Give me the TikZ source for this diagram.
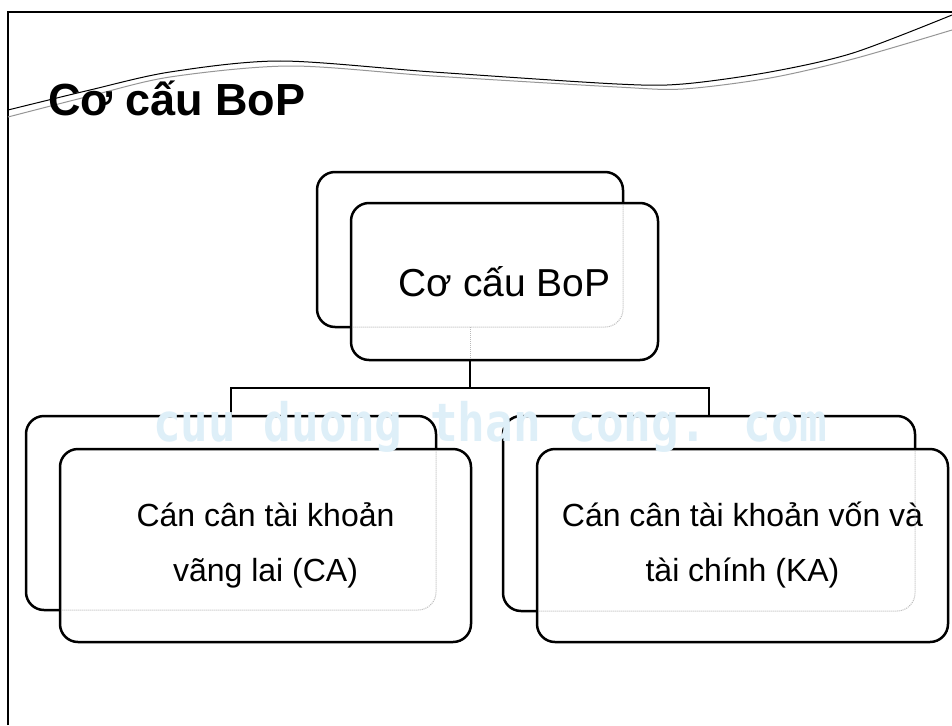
\documentclass[tikz,border=0pt]{standalone}
\usepackage{fontspec}
\setmainfont{Liberation Sans}
\newfontfamily\wmfont{DejaVu Sans Mono}
\definecolor{wmblue}{RGB}{222,239,248}
\definecolor{hidgray}{RGB}{185,185,185}
\definecolor{swooshgray}{RGB}{150,150,150}
\begin{document}
\begin{tikzpicture}[x=1pt,y=-1pt,
  boxstyle/.style={draw=black, line width=2.5pt, rounded corners=18pt, fill=white, inner sep=0pt, outer sep=0pt},
  toptext/.style={font=\fontsize{39}{50}\selectfont, align=center},
  boxtext/.style={font=\fontsize{32}{55}\selectfont, align=center},
  linkstyle/.style={draw=black, line width=2pt},
  hiddenstyle/.style={draw=hidgray, line width=1pt, densely dotted},
  framestyle/.style={draw=black, line width=2.5pt},
]
\useasboundingbox (0,0) rectangle (952,725);
\fill[white] (0,0) rectangle (952,725);
% slide frame
\draw[framestyle] (8,725) -- (8,12) -- (952,12);
% swoosh
\draw[swooshgray, line width=1pt] plot[smooth] coordinates {(8,117) (90,96) (170,77) (290,66) (433,76) (617,87) (683,89) (770,78) (853,59) (952,30)};
\draw[black, line width=1pt] plot[smooth] coordinates {(8,110) (90,90) (170,72) (280,61) (433,72) (617,84) (683,84) (770,72) (853,53) (952,15)};
% title
\node[anchor=base west, inner sep=0pt, font=\bfseries\fontsize{45}{50}\selectfont] (title) at (48,115) {Cơ cấu BoP};
% boxes
\node[boxstyle, minimum width=306pt, minimum height=155pt] (topback) at (470,249.5) {};
\node[boxstyle, minimum width=410pt, minimum height=194pt] (caback) at (231,513) {};
\node[boxstyle, minimum width=412pt, minimum height=195pt] (kaback) at (709,513.5) {};
% connectors
\coordinate (bus) at (470,388);
\draw[linkstyle] (topback.south) -- (bus);
\draw[linkstyle] (bus) -| (caback.north);
\draw[linkstyle] (bus) -| (kaback.north);
% front boxes
\node[boxstyle, toptext, minimum width=307pt, minimum height=157pt] (topfront) at (504.5,281.5) {Cơ cấu BoP};
\node[boxstyle, boxtext, minimum width=411pt, minimum height=193pt] (cafront) at (265.5,545.5) {Cán cân tài khoản\\vãng lai (CA)};
\node[boxstyle, boxtext, minimum width=411pt, minimum height=193pt] (kafront) at (742.5,545.5) {Cán cân tài khoản vốn và\\tài chính (KA)};
% hidden outlines
\begin{scope}
\clip[rounded corners=16pt] ([shift={(2pt,2pt)}]topfront.south west) rectangle ([shift={(-2pt,-2pt)}]topfront.north east);
\draw[hiddenstyle, rounded corners=18pt] (topback.south west) rectangle (topback.north east);
\draw[hiddenstyle] (topback.south) -- (topback.south |- topfront.south);
\end{scope}
\begin{scope}
\clip[rounded corners=16pt] ([shift={(2pt,2pt)}]cafront.south west) rectangle ([shift={(-2pt,-2pt)}]cafront.north east);
\draw[hiddenstyle, rounded corners=18pt] (caback.south west) rectangle (caback.north east);
\end{scope}
\begin{scope}
\clip[rounded corners=16pt] ([shift={(2pt,2pt)}]kafront.south west) rectangle ([shift={(-2pt,-2pt)}]kafront.north east);
\draw[hiddenstyle, rounded corners=18pt] (kaback.south west) rectangle (kaback.north east);
\end{scope}
% watermark
\node[anchor=base west, inner sep=0pt, text=wmblue, yscale=1.15, font=\wmfont\bfseries\fontsize{46}{50}\selectfont] (wm) at (153,441) {cuu duong than cong. com};
\end{tikzpicture}
\end{document}
